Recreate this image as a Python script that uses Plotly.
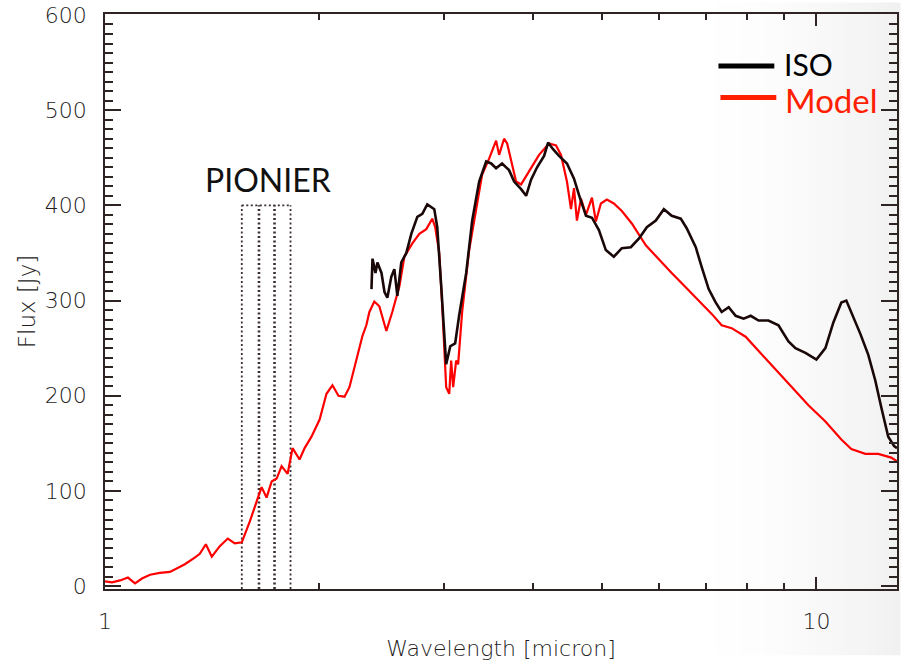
import plotly.graph_objects as go

# Model spectrum: wavelength [micron] and flux [Jy]
model_wl = [1.000, 1.023, 1.050, 1.077, 1.102, 1.127, 1.157, 1.194, 1.234, 1.266,
            1.295, 1.337, 1.359, 1.386, 1.413, 1.450, 1.488, 1.522, 1.557, 1.598,
            1.639, 1.660, 1.687, 1.715, 1.743, 1.771, 1.806, 1.835, 1.877, 1.908,
            1.951, 2.003, 2.048, 2.088, 2.129, 2.171, 2.206, 2.256, 2.301, 2.330,
            2.353, 2.391, 2.430, 2.486, 2.534, 2.593, 2.635, 2.704, 2.766, 2.829,
            2.884, 2.912, 2.950, 2.979, 2.998, 3.017, 3.047, 3.066, 3.086, 3.116,
            3.136, 3.177, 3.250, 3.324, 3.389, 3.467, 3.546, 3.581, 3.639, 3.675,
            3.722, 3.783, 3.845, 3.946, 4.075, 4.209, 4.305, 4.375, 4.418, 4.460,
            4.519, 4.563, 4.606, 4.667, 4.743, 4.836, 4.898, 4.978, 5.075, 5.191,
            5.327, 5.502, 5.757, 6.003, 6.260, 6.550, 6.832, 7.125, 7.359, 7.601,
            7.952, 8.293, 8.759, 9.224, 9.745, 10.295, 10.840, 11.196, 11.715, 12.217,
            12.740, 12.980]
model_flux = [5, 4, 6, 9, 3, 8, 12, 14, 15, 19,
              23, 30, 34, 44, 31, 42, 50, 45, 46, 68,
              92, 104, 93, 110, 113, 126, 118, 145, 133, 145,
              157, 175, 202, 211, 200, 199, 209, 237, 263, 274,
              288, 299, 294, 268, 288, 315, 346, 360, 370, 375,
              386, 377, 350, 294, 247, 209, 202, 237, 209, 237,
              233, 288, 353, 397, 432, 449, 468, 453, 470, 465,
              448, 425, 422, 436, 453, 465, 463, 453, 439, 425,
              396, 418, 384, 407, 390, 408, 383, 402, 406, 402,
              394, 381, 358, 343, 329, 314, 300, 286, 274, 271,
              262, 247, 228, 209, 190, 173, 154, 144, 139, 139,
              135, 131]

# ISO observed spectrum
iso_wl = [2.369, 2.377, 2.400, 2.415, 2.447, 2.471, 2.494, 2.526, 2.551, 2.576,
          2.609, 2.652, 2.695, 2.748, 2.793, 2.838, 2.903, 2.931, 2.969, 2.998,
          3.017, 3.057, 3.106, 3.146, 3.219, 3.282, 3.357, 3.434, 3.490, 3.546,
          3.615, 3.698, 3.759, 3.845, 3.908, 3.971, 4.049, 4.142, 4.196, 4.264,
          4.347, 4.460, 4.563, 4.637, 4.743, 4.836, 4.946, 5.058, 5.191, 5.327,
          5.484, 5.628, 5.776, 5.946, 6.103, 6.260, 6.446, 6.571, 6.767, 6.899,
          7.056, 7.217, 7.359, 7.528, 7.700, 7.901, 8.084, 8.293, 8.562, 8.844,
          9.135, 9.344, 9.651, 10.000, 10.295, 10.564, 10.840, 11.017, 11.196, 11.528,
          11.828, 12.099, 12.335, 12.617, 12.862, 12.980]
iso_flux = [312, 344, 329, 340, 329, 309, 303, 325, 333, 305,
            340, 350, 370, 388, 391, 401, 396, 377, 315, 257,
            233, 252, 255, 284, 329, 384, 425, 446, 444, 439,
            444, 437, 425, 417, 410, 427, 440, 452, 466, 459,
            452, 444, 428, 411, 389, 387, 374, 353, 346, 355,
            356, 365, 377, 384, 396, 389, 386, 376, 356, 335,
            312, 298, 288, 293, 284, 281, 284, 279, 279, 274,
            257, 250, 245, 238, 250, 277, 298, 300, 288, 265,
            243, 216, 188, 157, 147, 145]

# PIONIER spectral channel edges (micron) and box height (Jy)
pionier_edges = [1.557, 1.646, 1.731, 1.823]
pionier_top = 400

y_range = [-3, 601]
y_major = [0, 100, 200, 300, 400, 500, 600]
x_major = [1, 10]
x_minor = [2, 3, 4, 5, 6, 7, 8, 9]

axis_col = "#2e2424"
text_col = "#241c1c"
box_col = "#3a2e2e"

fig = go.Figure()

# PIONIER channel boxes: vertical edges (shared ones drawn bolder) and the top
for i, e in enumerate(pionier_edges):
    inner = 0 < i < len(pionier_edges) - 1
    fig.add_trace(go.Scatter(
        x=[e, e], y=[y_range[0], pionier_top], mode="lines",
        line=dict(color=box_col, width=2.6 if inner else 1.8, dash="2px,2.5px"),
        hoverinfo="skip", showlegend=False))
fig.add_trace(go.Scatter(
    x=[pionier_edges[0], pionier_edges[-1]], y=[pionier_top, pionier_top], mode="lines",
    line=dict(color=box_col, width=1.8, dash="2px,2.5px"),
    hoverinfo="skip", showlegend=False))

fig.add_trace(go.Scatter(x=model_wl, y=model_flux, mode="lines", name="Model",
                         line=dict(color="#ff0000", width=2.2), showlegend=False))
fig.add_trace(go.Scatter(x=iso_wl, y=iso_flux, mode="lines", name="ISO",
                         line=dict(color="#1a0808", width=2.6), showlegend=False))

# faint grey vignette toward the right edge
shapes = []
n = 24
for i in range(n):
    px0 = 700 + i * (202 / n)
    px1 = px0 + 202 / n + 0.5
    g = round(255 - (255 - 241) * ((i + 1) / n) ** 1.6)
    shapes.append(dict(type="rect", xref="paper", yref="paper",
                       x0=(px0 - 105) / 794, x1=(px1 - 105) / 794,
                       y0=-0.115, y1=1.02, line=dict(width=0),
                       fillcolor=f"rgb({g},{g},{g})", layer="below"))

# legend strokes
shapes.append(dict(type="line", xref="paper", yref="paper",
                   x0=(720 - 105) / 794, x1=(776 - 105) / 794,
                   y0=(595 - 62) / 586, y1=(595 - 62) / 586,
                   line=dict(color="#000000", width=5)))
shapes.append(dict(type="line", xref="paper", yref="paper",
                   x0=(722 - 105) / 794, x1=(778 - 105) / 794,
                   y0=(595 - 94) / 586, y1=(595 - 94) / 586,
                   line=dict(color="#ff2000", width=5)))

annotations = [
    dict(text="ISO", xref="paper", yref="paper", x=(784 - 105) / 794, y=(595 - 60) / 586,
         xanchor="left", yanchor="middle", showarrow=False, height=34,
         font=dict(family="Lato", size=30, color="#000000")),
    dict(text="Model", xref="paper", yref="paper", x=(785 - 105) / 794, y=(595 - 97) / 586,
         xanchor="left", yanchor="middle", showarrow=False, height=34,
         font=dict(family="Lato", size=33, color="#ff2000")),
    dict(text="PIONIER", xref="paper", yref="paper", x=(268 - 105) / 794, y=(595 - 178) / 586,
         xanchor="center", yanchor="middle", showarrow=False,
         font=dict(family="Lato", size=32, color="#111111")),
]

tick_font = dict(family="DejaVu Sans", size=22, color=text_col, weight=200)

fig.update_layout(
    width=902, height=661, autosize=False,
    margin=dict(l=105, r=3, t=9, b=66),
    paper_bgcolor="white", plot_bgcolor="rgba(0,0,0,0)",
    shapes=shapes, annotations=annotations,
    xaxis=dict(type="log", range=[0, 1.11327], showgrid=False, zeroline=False,
               showline=True, linecolor=axis_col, linewidth=1.5, mirror="ticks",
               ticks="inside", ticklen=12, tickwidth=1.5, tickcolor=axis_col,
               tickmode="array", tickvals=x_major, ticktext=[str(v) for v in x_major],
               tickfont=tick_font, ticklabelstandoff=12, ticklabeloverflow="allow",
               minor=dict(tickmode="array", tickvals=x_minor, ticks="inside",
                          ticklen=6, tickwidth=1.5, tickcolor=axis_col),
               title=dict(text="Wavelength [micron]", standoff=8,
                          font=dict(family="DejaVu Sans", size=22, color=text_col, weight=200))),
    yaxis=dict(range=y_range, showgrid=False, zeroline=False,
               showline=True, linecolor=axis_col, linewidth=1.5, mirror="ticks",
               ticks="inside", ticklen=16, tickwidth=1.5, tickcolor=axis_col,
               tickmode="array", tickvals=y_major, ticktext=[str(v) for v in y_major],
               tickfont=tick_font, ticklabelstandoff=12, ticklabeloverflow="allow",
               minor=dict(dtick=10, tick0=0, ticks="inside", ticklen=8,
                          tickwidth=1.5, tickcolor=axis_col),
               title=dict(text="Flux [Jy]", standoff=3,
                          font=dict(family="DejaVu Sans", size=23, color=text_col, weight=200))),
)

fig.write_html("out.html")
